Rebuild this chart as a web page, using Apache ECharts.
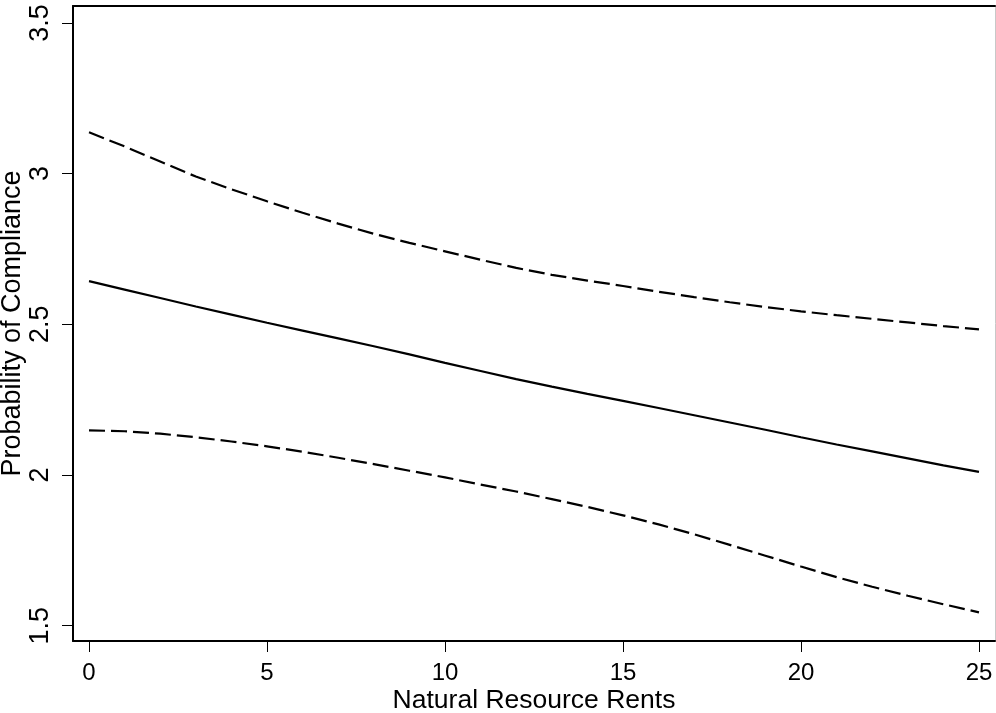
<!DOCTYPE html>
<html>
<head>
<meta charset="utf-8">
<script src="https://cdn.jsdelivr.net/npm/echarts@6/dist/echarts.min.js"></script>
<style>
html,body{margin:0;padding:0;background:#fff;}
#chart{width:996px;height:713px;}
</style>
</head>
<body>
<div id="chart"></div>
<script>
const xValues = [0,1,2,3,4,5,6,7,8,9,10,11,12,13,14,15,16,17,18,19,20,21,22,23,24,25];
const fitValues = [2.643,2.615,2.587,2.559,2.532,2.505,2.479,2.453,2.427,2.400,2.372,2.345,2.318,2.293,2.269,2.246,2.222,2.198,2.174,2.150,2.125,2.101,2.078,2.055,2.032,2.010];
const upperValues = [3.137,3.090,3.040,2.990,2.948,2.908,2.870,2.834,2.800,2.770,2.742,2.714,2.687,2.664,2.645,2.627,2.608,2.590,2.573,2.557,2.543,2.530,2.518,2.506,2.494,2.483];
const lowerValues = [2.148,2.145,2.137,2.125,2.111,2.095,2.077,2.057,2.036,2.014,1.992,1.968,1.945,1.920,1.894,1.866,1.836,1.803,1.768,1.732,1.696,1.661,1.629,1.599,1.571,1.544];
const xTicks = [0,5,10,15,20,25];
const yTicks = [1.5,2,2.5,3,3.5];
const xTitle = 'Natural Resource Rents';
const yTitle = 'Probability of Compliance';

const FONT = '"Liberation Sans", Arial, Helvetica, sans-serif';
const pairs = (ys) => xValues.map((x, i) => [x, ys[i]]);

const chart = echarts.init(document.getElementById('chart'), null, {renderer: 'canvas'});
chart.setOption({
  animation: false,
  backgroundColor: '#fff',
  grid: {left: 73, right: 1, top: 6, bottom: 72, containLabel: false, outerBoundsMode: 'none'},
  xAxis: [{
    type: 'value', min: -0.45, max: 25.45, position: 'bottom',
    name: xTitle, nameLocation: 'middle', nameGap: 46, nameMoveOverlap: false,
    nameTextStyle: {fontFamily: FONT, fontSize: 26.5, color: '#000'},
    axisLine: {show: true, onZero: false, lineStyle: {color: '#000', width: 2}},
    axisTick: {show: true, length: 11, lineStyle: {color: '#000', width: 1}, customValues: xTicks},
    axisLabel: {fontFamily: FONT, fontSize: 24, color: '#000', margin: 20, customValues: xTicks},
    splitLine: {show: false}
  }, {
    type: 'value', min: -0.45, max: 25.45, position: 'top',
    axisLine: {show: true, onZero: false, lineStyle: {color: '#000', width: 2}},
    axisTick: {show: false}, axisLabel: {show: false}, splitLine: {show: false}
  }],
  yAxis: [{
    type: 'value', min: 1.449, max: 3.556, position: 'left',
    name: yTitle, nameLocation: 'middle', nameGap: 47, nameRotate: 90, nameMoveOverlap: false,
    nameTextStyle: {fontFamily: FONT, fontSize: 27, color: '#000'},
    axisLine: {show: true, onZero: false, lineStyle: {color: '#000', width: 2}},
    axisTick: {show: true, length: 11, lineStyle: {color: '#000', width: 1}, customValues: yTicks},
    axisLabel: {fontFamily: FONT, fontSize: 27, color: '#000', margin: 19, rotate: 90, customValues: yTicks},
    splitLine: {show: false}
  }, {
    type: 'value', min: 1.449, max: 3.556, position: 'right',
    axisLine: {show: true, onZero: false, lineStyle: {color: '#c8c8c8', width: 1}},
    axisTick: {show: false}, axisLabel: {show: false}, splitLine: {show: false}
  }],
  series: [{
    type: 'line', data: pairs(upperValues), showSymbol: false, symbol: 'none',
    lineStyle: {color: '#000', width: 2.2, type: [16, 6]}
  }, {
    type: 'line', data: pairs(fitValues), showSymbol: false, symbol: 'none',
    lineStyle: {color: '#000', width: 2.2, type: 'solid'}
  }, {
    type: 'line', data: pairs(lowerValues), showSymbol: false, symbol: 'none',
    lineStyle: {color: '#000', width: 2.2, type: [16, 6]}
  }]
});
</script>
</body>
</html>
